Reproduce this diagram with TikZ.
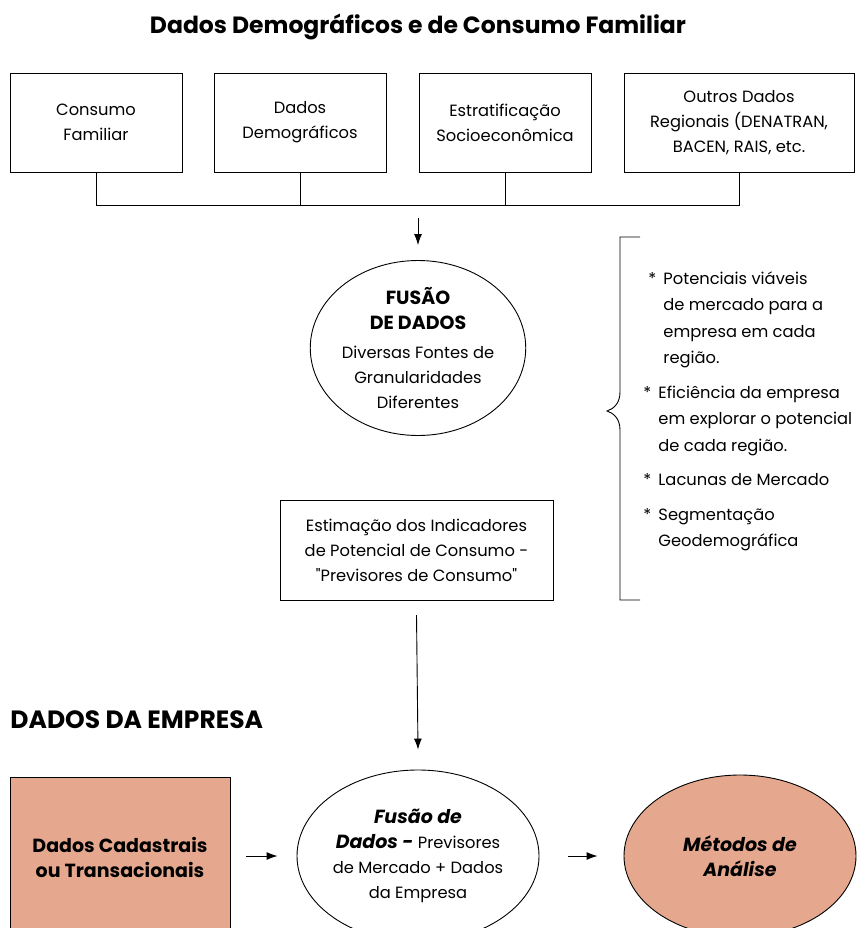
\documentclass[tikz,border=0pt]{standalone}
\usepackage{fontspec}
\setmainfont{Poppins}
\usetikzlibrary{arrows.meta,shapes.geometric,positioning}
\definecolor{salmao}{HTML}{E5A88F}
\newcommand{\marca}{\makebox[15pt][l]{*}}
\newcommand{\recuo}{\hspace*{15pt}}
\newcommand{\negrito}{\fontsize{19}{25}\bfseries\selectfont}

\begin{document}
\begin{tikzpicture}[x=1pt,y=-1pt,>={Latex[length=11pt,width=8pt]},line width=0.9pt,
  texto/.style={font=\fontsize{16.3}{25}\selectfont},
  caixa/.style={texto,draw,minimum width=172pt,minimum height=99pt,align=center,inner sep=2pt},
  elipse/.style={texto,draw,ellipse,inner sep=0pt,align=center},
  titulo/.style={font=\fontsize{23.5}{26}\bfseries\selectfont}]
  \useasboundingbox (0,0) rectangle (858,928);
  \clip (0,0) rectangle (858,928);
  % titulo
  \node[titulo] (tit) at (418,27) {Dados Demográficos e de Consumo Familiar};
  % fontes de dados
  \node[caixa] (c1) at (96,122.5) {Consumo\\Familiar};
  \node[caixa] (c2) at (300,122.5) {Dados\\Demográficos};
  \node[caixa] (c3) at (505,122.5) {Estratificação\\Socioeconômica};
  \node[caixa,minimum width=230pt] (c4) at (739,122.5) {Outros Dados\\Regionais (DENATRAN,\\BACEN, RAIS, etc.};
  \coordinate (barra) at (418,205);
  \draw (c1.south) |- (c4.south |- barra) -- (c4.south);
  \draw (c2.south) -- (c2.south |- barra);
  \draw (c3.south) -- (c3.south |- barra);
  % fusao de dados
  \node[elipse,minimum width=203pt,minimum height=175pt] (fus) at (418,348)
    {{\negrito FUSÃO}\\{\negrito DE DADOS}\\[4pt]Diversas Fontes de\\Granularidades\\Diferentes};
  \draw[->] (barra |- 0,218) -- ([yshift=15pt]fus.north);
  \node[caixa,minimum width=273pt,minimum height=100pt] (est) at (416.5,550)
    {Estimação dos Indicadores\\de Potencial de Consumo -\\\textquotedbl Previsores de Consumo\textquotedbl};
  % chave e lista
  \draw (640,237) -- (620,237) -- (620,392)
    .. controls (620,404) and (613,409) .. (607,411)
    .. controls (613,413) and (620,418) .. (620,430) -- (620,600) -- (640,600);
  \node[anchor=north west,align=left,inner sep=0pt,font=\fontsize{16.3}{26.5}\selectfont] (lista) at (643,271)
    {\hspace*{5pt}\marca Potenciais viáveis\\
     \hspace*{5pt}\recuo de mercado para a\\
     \hspace*{5pt}\recuo empresa em cada\\
     \hspace*{5pt}\recuo região.\\[8pt]
     \marca Eficiência da empresa\\
     \recuo em explorar o potencial\\
     \recuo de cada região.\\[8pt]
     \marca Lacunas de Mercado\\[8pt]
     \marca Segmentação\\
     \recuo Geodemográfica};
  % dados da empresa
  \node[font=\fontsize{25}{28}\bfseries\selectfont,anchor=west,inner sep=0pt] (emp) at (10,720) {DADOS DA EMPRESA};
  \node[draw,fill=salmao,minimum width=220pt,minimum height=160pt,align=center,font=\negrito] (cad) at (120,857)
    {Dados Cadastrais\\ou Transacionais};
  \node[elipse,minimum width=242pt,minimum height=172pt] (fus2) at (418,856)
    {{\negrito\itshape Fusão de}\\{\negrito\itshape Dados -} Previsores\\de Mercado + Dados\\da Empresa};
  \node[elipse,fill=salmao,minimum width=232pt,minimum height=162pt,font=\negrito\itshape] (met) at (740,856)
    {Métodos de\\Análise};
  \draw[->] (est.south |- 0,615) -- ([yshift=20pt]fus2.north);
  \draw[->] ([xshift=16pt]cad.east |- fus2.west) -- ([xshift=-19pt]fus2.west);
  \draw[->] ([xshift=29pt]fus2.east) -- ([xshift=-26pt]met.west);
\end{tikzpicture}
\end{document}
